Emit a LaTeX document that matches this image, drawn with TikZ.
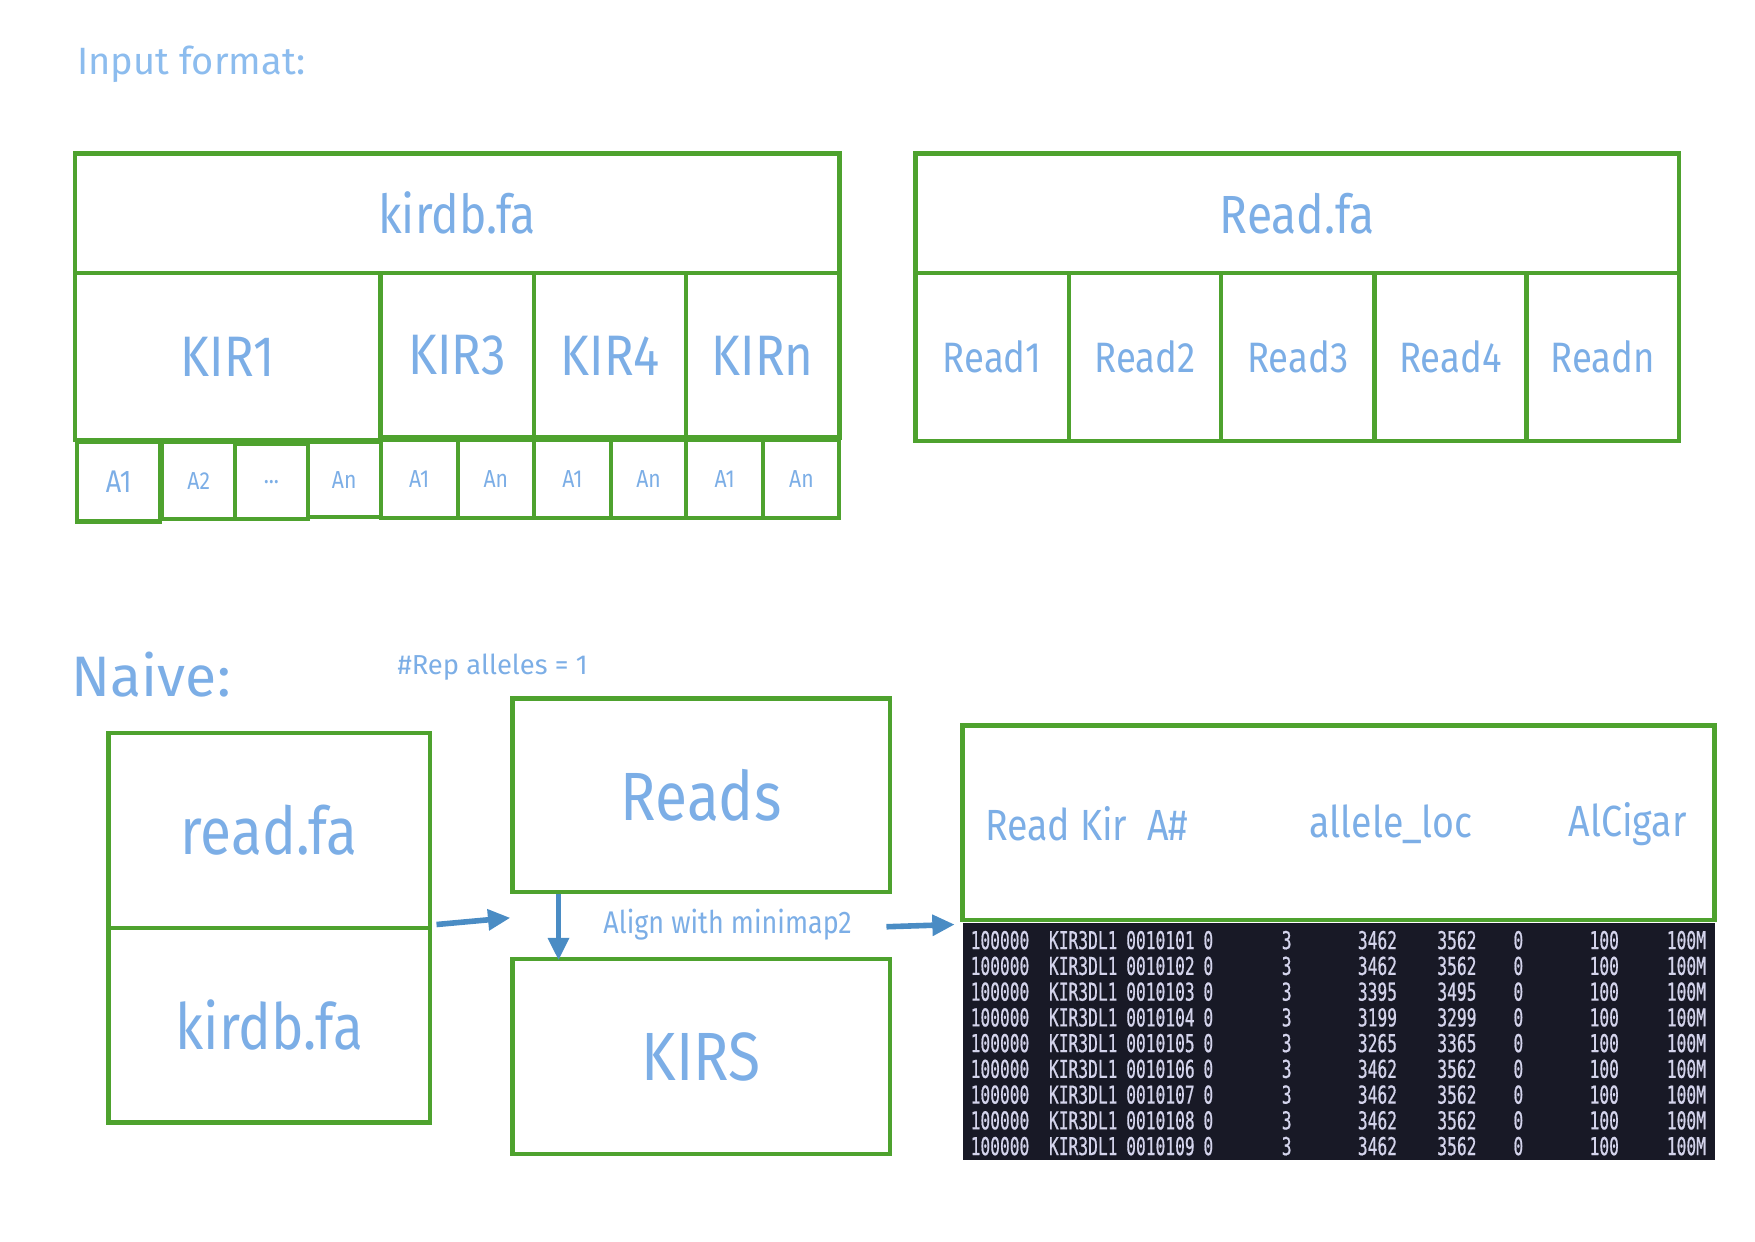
\documentclass[tikz,border=0pt]{standalone}
\usepackage{fontspec}
\setmainfont[FakeStretch=0.86]{Fira Sans}
\newfontfamily\widefont{Fira Sans}
\newfontfamily\tblfont[FakeStretch=0.66,FakeBold=0.6]{DejaVu Sans Mono}
\usetikzlibrary{arrows.meta}
\definecolor{kgreen}{RGB}{78,162,46}
\definecolor{ktext}{RGB}{124,174,230}
\definecolor{ktitle}{RGB}{140,188,238}
\definecolor{karrow}{RGB}{74,140,196}
\definecolor{ktable}{RGB}{24,25,38}
\definecolor{ktabtext}{RGB}{212,212,236}
\newcommand\fsz[1]{\fontsize{#1}{#1}\selectfont}
\newcommand\bx[7]{\node[#6, minimum width={#4-#2}, minimum height={#5-#3}] (#1) at ({(#2+#4)/2},{(#3+#5)/2}) {#7};}
\begin{document}
\begin{tikzpicture}[x=1pt,y=-1pt,
  cell/.style={draw=kgreen,line width=4pt,inner sep=0pt,text=ktext},
  thin cell/.style={cell,line width=3.5pt},
  big/.style={font=\fsz{48}},
  kir/.style={font=\fsz{51}},
  rd/.style={font=\fsz{38}},
  al/.style={font=\fsz{22}},
  huge/.style={font=\fsz{59}},
  hdr/.style={font=\fsz{39},text=ktext,inner sep=0pt},
  lbl/.style={text=ktext,inner sep=0pt},
  flow/.style={draw=karrow,line width=5pt,-{Triangle[length=20pt,width=18pt]}},
  tcell/.style={font=\tblfont\fsz{22},text=ktabtext,inner sep=0pt,anchor=west}]
\useasboundingbox (0,0) rectangle (1568,1108.8);
% titles
\node[lbl,text=ktitle,font=\widefont\fsz{34},anchor=west] (title) at (69,57) {Input format:};
% kirdb.fa block
\bx{kirhead}{67}{137}{750}{244}{cell,big}{kirdb.fa}
\bx{kir1}{67}{244}{340}{393}{cell,kir}{KIR1}
\bx{kir3}{340}{244}{477}{391}{cell,kir}{KIR3}
\bx{kir4}{477}{244}{613}{391}{cell,kir}{KIR4}
\bx{kirn}{613}{244}{750}{391}{cell,kir}{KIRn}
\bx{a11}{69}{395}{143}{466}{cell,font=\fsz{28}}{A1}
\bx{a12}{145}{395}{210}{464}{thin cell,al}{A2}
\bx{a1d}{210}{397}{275}{464}{thin cell,al}{...}
\bx{a1n}{275}{395}{340}{462}{thin cell,al}{An}
\bx{a31}{340}{393}{409}{463}{thin cell,al}{A1}
\bx{a3n}{409}{393}{477}{463}{thin cell,al}{An}
\bx{a41}{477}{393}{546}{463}{thin cell,al}{A1}
\bx{a4n}{546}{393}{613}{463}{thin cell,al}{An}
\bx{an1}{613}{393}{682}{463}{thin cell,al}{A1}
\bx{ann}{682}{393}{750}{463}{thin cell,al}{An}
% Read.fa block
\bx{readhead}{818}{137}{1500}{244}{cell,big}{Read.fa}
\bx{rd1}{818}{244}{955}{394}{cell,rd}{Read1}
\bx{rd2}{955}{244}{1091}{394}{cell,rd}{Read2}
\bx{rd3}{1091}{244}{1228}{394}{cell,rd}{Read3}
\bx{rd4}{1228}{244}{1364}{394}{cell,rd}{Read4}
\bx{rdn}{1364}{244}{1500}{394}{cell,rd}{Readn}
% Naive
\node[lbl,font=\widefont\fsz{51},anchor=west] (naive) at (64,603) {Naive:};
\node[lbl,font=\widefont\fsz{24.5},anchor=west] (rep) at (355,596) {\#Rep alleles = 1};
\bx{rf}{97}{655}{384}{829}{cell,huge}{read.fa}
\bx{kd}{97}{829}{384}{1003}{cell,font=\fsz{57}}{kirdb.fa}
\bx{reads}{458}{624}{795}{797}{cell,font=\fsz{61}}{Reads}
\bx{kirs}{458}{857}{795}{1031}{cell,font=\fsz{61}}{KIRS}
\node[lbl,font=\fsz{28}] (align) at (650,826) {Align with minimap2};
% output header
\bx{outhead}{860}{648}{1532}{822}{cell}{}
\node[hdr,anchor=west] (h1) at (880,736) {Read Kir\ \ A\#};
\node[hdr] (h2) at (1243,736) {allele\_loc};
\node[hdr,anchor=east] (h3) at (1507,736) {AlCigar};
% table
\fill[ktable] (860,825) rectangle (1532,1036);
\foreach \i/\al/\s/\e in {1/0010101/3462/3562,2/0010102/3462/3562,3/0010103/3395/3495,
  4/0010104/3199/3299,5/0010105/3265/3365,6/0010106/3462/3562,7/0010107/3462/3562,
  8/0010108/3462/3562,9/0010109/3462/3562}{
  \pgfmathsetmacro\yy{840+23*(\i-1)}
  \node[tcell] (r\i c1) at (867,\yy) {100000};
  \node[tcell] (r\i c2) at (937,\yy) {KIR3DL1};
  \node[tcell] (r\i c3) at (1006,\yy) {\al};
  \node[tcell] (r\i c4) at (1075,\yy) {0};
  \node[tcell] (r\i c5) at (1145,\yy) {3};
  \node[tcell] (r\i c6) at (1213,\yy) {\s};
  \node[tcell] (r\i c7) at (1284,\yy) {\e};
  \node[tcell] (r\i c8) at (1352,\yy) {0};
  \node[tcell] (r\i c9) at (1420,\yy) {100};
  \node[tcell] (r\i c10) at (1489,\yy) {100M};
}
% arrows
\coordinate (a1s) at (390,826);
\coordinate (a1e) at (456,820);
\coordinate (a2s) at (499,799);
\coordinate (a2e) at (499,858);
\coordinate (a3s) at (792,828);
\coordinate (a3e) at (853,826);
\draw[flow] (a1s) -- (a1e);
\draw[flow] (a2s) -- (a2e);
\draw[flow] (a3s) -- (a3e);
\end{tikzpicture}
\end{document}
